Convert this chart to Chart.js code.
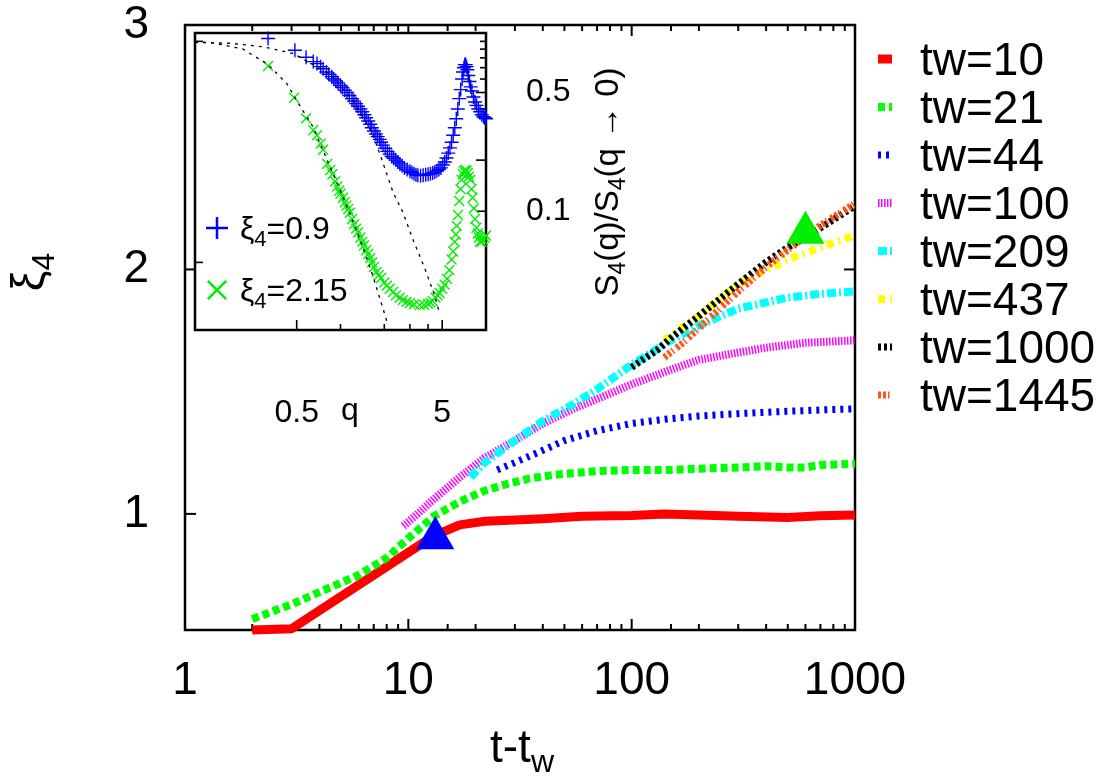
<!DOCTYPE html>
<html>
<head>
<meta charset="utf-8">
<title>xi4 vs t-tw</title>
<script src="https://cdn.jsdelivr.net/npm/chart.js@4.4.1/dist/chart.umd.min.js"></script>
<style>
  html, body { margin: 0; padding: 0; background: #fff; }
  #wrap { position: relative; width: 1120px; height: 782px; }
  #main { position: absolute; left: 0; top: 0; }
  #inset { position: absolute; left: 150px; top: 0; }
</style>
</head>
<body>
<div id="wrap">
  <canvas id="main" width="1120" height="782"></canvas>
  <canvas id="inset" width="500" height="440"></canvas>
</div>
<script>
// ---- main panel: xi_4 against t - t_w, one curve per waiting time ----
const waitLabels = ['tw=10', 'tw=21', 'tw=44', 'tw=100', 'tw=209', 'tw=437', 'tw=1000', 'tw=1445'];

const t10 = [2, 3, 13, 17, 22, 30, 40, 60, 100, 140, 200, 300, 500, 700, 1000];
const xi10 = [0.525, 0.53, 0.91, 0.955, 0.97, 0.975, 0.98, 0.99, 0.993, 1.0, 0.995, 0.99, 0.985, 0.992, 0.995];

const t21 = [2, 3, 4, 6, 8, 10, 13, 17, 19, 22, 27, 35, 45, 70, 100, 150, 200, 300, 400, 500, 600, 700, 1000];
const xi21 = [0.57, 0.63, 0.68, 0.75, 0.82, 0.9, 0.99, 1.05, 1.07, 1.095, 1.12, 1.145, 1.16, 1.175, 1.18, 1.18, 1.185, 1.19, 1.195, 1.19, 1.19, 1.2, 1.205];

const t44 = [25, 30, 40, 50, 70, 100, 150, 200, 300, 500, 700, 1000];
const xi44 = [1.18, 1.21, 1.26, 1.3, 1.34, 1.37, 1.39, 1.4, 1.41, 1.42, 1.425, 1.43];

const t100 = [9.5, 11, 13, 17, 22, 30, 40, 55, 70, 100, 150, 200, 300, 400, 600, 1000];
const xi100 = [0.95, 1.0, 1.06, 1.15, 1.23, 1.3, 1.37, 1.43, 1.47, 1.53, 1.59, 1.63, 1.66, 1.68, 1.7, 1.71];

const t209 = [19, 22, 30, 40, 55, 70, 100, 150, 200, 300, 500, 700, 1000];
const xi209 = [1.15, 1.21, 1.3, 1.38, 1.45, 1.51, 1.61, 1.71, 1.77, 1.84, 1.885, 1.9, 1.91];

const t437 = [140, 200, 300, 400, 500, 700, 1000];
const xi437 = [1.71, 1.81, 1.94, 2.0, 2.04, 2.09, 2.14];

const t1000 = [100, 130, 150, 200, 300, 400, 500, 700, 1000];
const xi1000 = [1.6, 1.67, 1.72, 1.81, 1.94, 2.03, 2.09, 2.17, 2.26];

const t1445 = [140, 170, 200, 300, 400, 500, 700, 1000];
const xi1445 = [1.64, 1.7, 1.76, 1.91, 2.01, 2.08, 2.18, 2.27];

// the two triangles mark the xi_4 values shown in the inset
const markT = [13.2, 600];
const markXi = [0.9, 2.15];

const xMajor = [1, 10, 100, 1000];
const yTicks = [1, 2, 3];

// ---- inset: S4(q)/S4(q->0) against q ----
const qBlue = [0.318, 0.486, 0.58, 0.65, 0.69, 0.73, 0.76, 0.8, 0.83, 0.87, 0.9, 0.93, 0.96, 1.0, 1.03, 1.07, 1.11, 1.15, 1.2, 1.24, 1.28, 1.32, 1.37, 1.41, 1.46, 1.5, 1.55, 1.6, 1.64, 1.7, 1.75, 1.8, 1.86, 1.9, 1.96, 2.03, 2.1, 2.17, 2.25, 2.32, 2.4, 2.48, 2.56, 2.65, 2.75, 2.87, 3.0, 3.1, 3.2, 3.3, 3.4, 3.55, 3.7, 3.85, 4.0, 4.15, 4.3, 4.45, 4.6, 4.75, 4.9, 5.05, 5.2, 5.35, 5.5, 5.65, 5.8, 5.95, 6.1, 6.25, 6.4, 6.55, 6.7, 6.85, 6.95, 7.05, 7.15, 7.25, 7.35, 7.45, 7.55, 7.7, 7.85, 8.0, 8.2, 8.4, 8.6, 8.85, 9.1, 9.35, 9.6, 9.8, 10];
const sBlue = [1.04, 0.887, 0.807, 0.76, 0.74, 0.71, 0.69, 0.66, 0.64, 0.62, 0.6, 0.585, 0.57, 0.55, 0.535, 0.515, 0.5, 0.48, 0.46, 0.445, 0.43, 0.415, 0.4, 0.385, 0.37, 0.355, 0.34, 0.325, 0.31, 0.297, 0.285, 0.275, 0.265, 0.255, 0.245, 0.235, 0.225, 0.217, 0.21, 0.205, 0.2, 0.195, 0.19, 0.185, 0.18, 0.176, 0.172, 0.169, 0.166, 0.164, 0.163, 0.162, 0.163, 0.164, 0.165, 0.166, 0.168, 0.17, 0.173, 0.176, 0.18, 0.187, 0.195, 0.206, 0.22, 0.236, 0.255, 0.28, 0.31, 0.35, 0.4, 0.46, 0.52, 0.6, 0.66, 0.7, 0.73, 0.73, 0.71, 0.68, 0.63, 0.58, 0.54, 0.51, 0.47, 0.44, 0.42, 0.4, 0.385, 0.37, 0.36, 0.355, 0.35];

const qGreen = [0.318, 0.48, 0.58, 0.65, 0.69, 0.73, 0.76, 0.81, 0.85, 0.88, 0.92, 0.95, 0.98, 1.0, 1.04, 1.07, 1.1, 1.13, 1.16, 1.2, 1.24, 1.28, 1.32, 1.37, 1.41, 1.45, 1.5, 1.55, 1.6, 1.65, 1.7, 1.77, 1.83, 1.9, 2.0, 2.08, 2.18, 2.3, 2.4, 2.55, 2.68, 2.85, 3.0, 3.2, 3.5, 3.75, 4.0, 4.15, 4.3, 4.5, 4.65, 4.8, 5.0, 5.2, 5.4, 5.6, 5.8, 5.95, 6.1, 6.2, 6.3, 6.42, 6.55, 6.68, 6.8, 6.95, 7.05, 7.2, 7.35, 7.5, 7.65, 7.8, 7.95, 8.1, 8.25, 8.4, 8.6, 8.8, 8.95, 9.1, 9.3, 9.5, 9.75, 10];
const sGreen = [0.716, 0.466, 0.352, 0.3, 0.28, 0.25, 0.23, 0.19, 0.175, 0.165, 0.15, 0.14, 0.132, 0.127, 0.12, 0.113, 0.108, 0.103, 0.098, 0.09, 0.084, 0.079, 0.075, 0.07, 0.066, 0.063, 0.059, 0.056, 0.053, 0.05, 0.047, 0.044, 0.042, 0.0405, 0.038, 0.0365, 0.035, 0.0335, 0.032, 0.031, 0.03, 0.0293, 0.0288, 0.0283, 0.028, 0.0281, 0.0285, 0.029, 0.0296, 0.031, 0.032, 0.033, 0.035, 0.037, 0.04, 0.045, 0.052, 0.058, 0.066, 0.073, 0.082, 0.095, 0.115, 0.135, 0.153, 0.165, 0.172, 0.175, 0.173, 0.168, 0.16, 0.153, 0.135, 0.12, 0.104, 0.09, 0.08, 0.074, 0.07, 0.066, 0.066, 0.068, 0.07, 0.072];

const qFit1 = [0.1, 0.174, 0.293, 0.47, 0.85, 1.22, 1.65, 1.93, 2.3, 2.68, 3.13, 3.8, 4.45, 4.8];
const sFit1 = [0.985, 0.975, 0.93, 0.85, 0.64, 0.45, 0.29, 0.2, 0.129, 0.099, 0.069, 0.046, 0.0316, 0.025];

const qFit2 = [0.1, 0.137, 0.214, 0.318, 0.43, 0.5, 0.65, 0.81, 1.01, 1.3, 1.65, 2.08];
const sFit2 = [1.0, 0.975, 0.9, 0.73, 0.56, 0.448, 0.312, 0.2, 0.129, 0.076, 0.043, 0.0226];

const qTicks = [0.5, 1, 2, 3, 4, 5];
const qLabels = [0.5, 5];
const sTicksRight = [0.1, 0.2, 0.4, 0.5, 0.6, 0.7, 0.8, 0.9, 1];
const sTicksLeft = [0.05, 1];
const sLabels = [0.1, 0.5];

const FONT = '"Liberation Sans", Arial, Helvetica, sans-serif';

function pts(xs, ys) {
  return xs.map((v, i) => ({ x: v, y: ys[i] }));
}

// draw text with subscript pieces: parts = [[text, isSub], ...]
function richText(ctx, parts, x, y, size, align) {
  const big = size + 'px ' + FONT;
  const small = Math.round(size * 0.7) + 'px ' + FONT;
  let w = 0;
  parts.forEach(p => { ctx.font = p[1] ? small : big; w += ctx.measureText(p[0]).width; });
  let cx = align === 'center' ? x - w / 2 : (align === 'right' ? x - w : x);
  ctx.textAlign = 'left';
  ctx.textBaseline = 'alphabetic';
  parts.forEach(p => {
    ctx.font = p[1] ? small : big;
    ctx.fillText(p[0], cx, y + (p[1] ? size * 0.22 : 0));
    cx += ctx.measureText(p[0]).width;
  });
}

function seg(ctx, x1, y1, x2, y2) {
  ctx.beginPath(); ctx.moveTo(x1, y1); ctx.lineTo(x2, y2); ctx.stroke();
}

// drop the extra room chart.js keeps for overhanging tick labels
function noOverhang(s) {
  s.paddingTop = 0; s.paddingBottom = 0; s.paddingLeft = 0; s.paddingRight = 0;
}

const styles = [
  { color: '#ff0000', width: 9, dash: [] },
  { color: '#00ff00', width: 8, dash: [7, 4] },
  { color: '#0000ff', width: 7, dash: [3, 5] },
  { color: '#ff00ff', width: 8, dash: [1.5, 1.5] },
  { color: '#00ffff', width: 8, dash: [9, 3, 2, 3] },
  { color: '#ffff00', width: 8, dash: [7, 5, 2, 5] },
  { color: '#000000', width: 7, dash: [3, 3] },
  { color: '#ff5517', width: 7, dash: [3, 2, 3, 2, 1.5, 4] }
];

const series = [
  pts(t10, xi10), pts(t21, xi21), pts(t44, xi44), pts(t100, xi100),
  pts(t209, xi209), pts(t437, xi437), pts(t1000, xi1000), pts(t1445, xi1445)
];

const lineSets = series.map((d, i) => ({
  label: waitLabels[i],
  data: d,
  showLine: true,
  borderColor: styles[i].color,
  borderWidth: styles[i].width,
  borderDash: styles[i].dash,
  borderCapStyle: 'butt',
  borderJoinStyle: 'round',
  pointRadius: 0,
  tension: 0,
  clip: false,
  order: 10 - i
}));

lineSets.push({
  label: 'marks',
  data: pts(markT, markXi),
  showLine: false,
  pointStyle: 'triangle',
  pointRadius: 22,
  pointHoverRadius: 22,
  pointBorderWidth: 0,
  pointBackgroundColor: ['#0000ff', '#00ee00'],
  pointBorderColor: ['#0000ff', '#00ee00'],
  clip: false,
  order: 0
});

const mainDecor = {
  id: 'mainDecor',
  beforeDraw(chart) {
    const ctx = chart.ctx;
    ctx.save();
    ctx.fillStyle = '#fff';
    ctx.fillRect(0, 0, chart.width, chart.height);
    ctx.restore();
  },
  beforeDatasetsDraw(chart) {
    const { ctx, chartArea: a, scales: { x, y } } = chart;
    ctx.save();
    ctx.strokeStyle = '#000';
    ctx.lineWidth = 2;
    x.ticks.forEach(t => {
      const px = x.getPixelForValue(t.value);
      const len = xMajor.includes(t.value) ? 11 : 6;
      seg(ctx, px, a.bottom, px, a.bottom - len);
      seg(ctx, px, a.top, px, a.top + len);
    });
    y.ticks.forEach(t => {
      const py = y.getPixelForValue(t.value);
      seg(ctx, a.left, py, a.left + 11, py);
      seg(ctx, a.right, py, a.right - 11, py);
    });
    ctx.lineWidth = 2.5;
    ctx.strokeRect(a.left, a.top, a.right - a.left, a.bottom - a.top);
    ctx.restore();
  },
  afterDraw(chart) {
    const ctx = chart.ctx;
    ctx.save();
    ctx.fillStyle = '#000';
    // x title
    richText(ctx, [['t-t', false], ['w', true]], 522, 762, 46, 'center');
    // y title, rotated
    ctx.save();
    ctx.translate(44, 272);
    ctx.rotate(-Math.PI / 2);
    richText(ctx, [['\u03BE', false], ['4', true]], 0, 0, 46, 'center');
    ctx.restore();
    // legend
    waitLabels.forEach((lab, i) => {
      const yy = 59 + i * 48;
      ctx.strokeStyle = styles[i].color;
      ctx.lineWidth = styles[i].width;
      ctx.setLineDash(styles[i].dash);
      ctx.lineCap = 'butt';
      seg(ctx, 878, yy, 892, yy);
      ctx.setLineDash([]);
      ctx.fillStyle = '#000';
      ctx.font = '46px ' + FONT;
      ctx.textAlign = 'left';
      ctx.textBaseline = 'alphabetic';
      ctx.fillText(lab, 920, yy + 16);
    });
    ctx.restore();
  }
};

new Chart(document.getElementById('main'), {
  type: 'scatter',
  data: { datasets: lineSets },
  options: {
    responsive: false,
    animation: false,
    layout: { padding: { top: 25, right: 265, left: 0, bottom: 0 } },
    plugins: { legend: { display: false }, tooltip: { enabled: false } },
    scales: {
      x: {
        type: 'logarithmic',
        min: 1,
        max: 1000,
        grid: { display: false },
        border: { display: false },
        afterFit(s) { s.height = 152; noOverhang(s); },
        ticks: {
          autoSkip: false,
          maxRotation: 0,
          minRotation: 0,
          padding: 16,
          color: '#000',
          font: { family: FONT, size: 46 },
          callback: v => (xMajor.includes(v) ? String(v) : '')
        }
      },
      y: {
        type: 'linear',
        min: 0.525,
        max: 3,
        grid: { display: false },
        border: { display: false },
        afterFit(s) { s.width = 185; noOverhang(s); },
        afterBuildTicks(s) { s.ticks = yTicks.map(v => ({ value: v })); },
        ticks: {
          padding: 28,
          color: '#000',
          font: { family: FONT, size: 46 },
          callback: v => String(v)
        }
      }
    }
  },
  plugins: [mainDecor]
});

// ---- inset chart ----
const insetSets = [
  {
    label: 'fit 0.9', data: pts(qFit1, sFit1), showLine: true,
    borderColor: '#000', borderWidth: 1.3, borderDash: [3, 5], pointRadius: 0, clip: false
  },
  {
    label: 'fit 2.15', data: pts(qFit2, sFit2), showLine: true,
    borderColor: '#000', borderWidth: 1.3, borderDash: [3, 5], pointRadius: 0, clip: false
  },
  {
    label: 'xi4=0.9', data: pts(qBlue, sBlue), showLine: false,
    pointStyle: 'cross', pointRadius: 7, pointBorderWidth: 1.4,
    pointBorderColor: '#0000ff', pointBackgroundColor: '#0000ff', clip: 8
  },
  {
    label: 'xi4=2.15', data: pts(qGreen, sGreen), showLine: false,
    pointStyle: 'crossRot', pointRadius: 7, pointBorderWidth: 1.4,
    pointBorderColor: '#00ee00', pointBackgroundColor: '#00ee00', clip: 8
  }
];

const insetDecor = {
  id: 'insetDecor',
  beforeDraw(chart) {
    const { ctx, chartArea: a } = chart;
    ctx.save();
    ctx.fillStyle = '#fff';
    ctx.fillRect(a.left, a.top, a.right - a.left, a.bottom - a.top);
    ctx.restore();
  },
  beforeDatasetsDraw(chart) {
    const { ctx, chartArea: a, scales: { x, y } } = chart;
    ctx.save();
    ctx.strokeStyle = '#000';
    ctx.lineWidth = 1.6;
    qTicks.forEach(v => {
      const px = x.getPixelForValue(v);
      seg(ctx, px, a.bottom, px, a.bottom - (qLabels.includes(v) ? 10 : 6));
    });
    sTicksRight.forEach(v => {
      const py = y.getPixelForValue(v);
      seg(ctx, a.right, py, a.right - ([0.1, 0.2, 0.5].includes(v) ? 10 : 6), py);
    });
    sTicksLeft.forEach(v => {
      const py = y.getPixelForValue(v);
      seg(ctx, a.left, py, a.left + 8, py);
    });
    ctx.lineWidth = 2.5;
    ctx.strokeRect(a.left, a.top, a.right - a.left, a.bottom - a.top);
    ctx.restore();
  },
  afterDraw(chart) {
    const ctx = chart.ctx;
    ctx.save();
    ctx.fillStyle = '#000';
    ctx.font = '32px ' + FONT;
    ctx.textAlign = 'center';
    ctx.textBaseline = 'alphabetic';
    ctx.fillText('q', 200, 420);
    // rotated y title
    ctx.save();
    ctx.translate(468, 182);
    ctx.rotate(-Math.PI / 2);
    richText(ctx, [['S', false], ['4', true], ['(q)/S', false], ['4', true], ['(q \u2192 0)', false]], 0, 0, 33, 'center');
    ctx.restore();
    // inset key
    ctx.lineWidth = 2.5;
    ctx.strokeStyle = '#0000ff';
    Chart.helpers.drawPoint(ctx, { pointStyle: 'cross', radius: 11, borderWidth: 2.5 }, 67, 228);
    ctx.strokeStyle = '#00ee00';
    Chart.helpers.drawPoint(ctx, { pointStyle: 'crossRot', radius: 13, borderWidth: 2.5 }, 67, 290);
    ctx.fillStyle = '#000';
    richText(ctx, [['\u03BE', false], ['4', true], ['=0.9', false]], 90, 239, 32, 'left');
    richText(ctx, [['\u03BE', false], ['4', true], ['=2.15', false]], 90, 301, 32, 'left');
    ctx.restore();
  }
};

new Chart(document.getElementById('inset'), {
  type: 'scatter',
  data: { datasets: insetSets },
  options: {
    responsive: false,
    animation: false,
    layout: { padding: { top: 33, left: 45, right: 0, bottom: 0 } },
    plugins: { legend: { display: false }, tooltip: { enabled: false } },
    scales: {
      x: {
        type: 'logarithmic',
        min: 0.1,
        max: 10,
        grid: { display: false },
        border: { display: false },
        afterFit(s) { s.height = 110; noOverhang(s); },
        afterBuildTicks(s) { s.ticks = qTicks.map(v => ({ value: v })); },
        ticks: {
          autoSkip: false,
          maxRotation: 0,
          minRotation: 0,
          padding: 56,
          color: '#000',
          font: { family: FONT, size: 32 },
          callback: v => (qLabels.includes(v) ? String(v) : '')
        }
      },
      y: {
        type: 'logarithmic',
        position: 'right',
        min: 0.02,
        max: 1.12,
        grid: { display: false },
        border: { display: false },
        afterFit(s) { s.width = 164; noOverhang(s); },
        afterBuildTicks(s) { s.ticks = sTicksRight.map(v => ({ value: v })); },
        ticks: {
          autoSkip: false,
          padding: 32,
          color: '#000',
          font: { family: FONT, size: 32 },
          callback: v => (sLabels.includes(v) ? String(v) : '')
        }
      }
    }
  },
  plugins: [insetDecor]
});
</script>
</body>
</html>
